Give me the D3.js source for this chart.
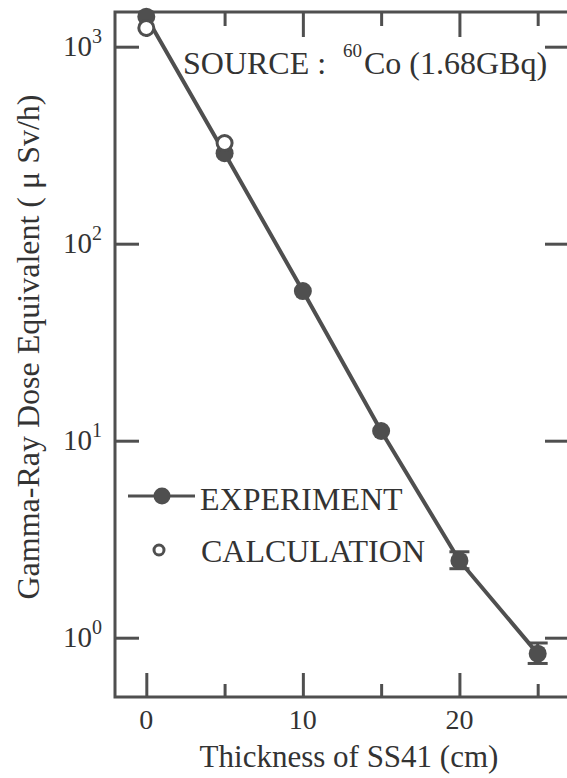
<!DOCTYPE html>
<html>
<head>
<meta charset="utf-8">
<script src="https://cdn.jsdelivr.net/npm/d3@7"></script>
</head>
<body style="margin:0">
<script>
// values
const thickness = [0, 5, 10, 15, 20, 25];
const experiment = [1420, 288, 57.5, 11.2, 2.46, 0.83];
const expLow = [null, null, null, null, 2.24, 0.74];
const expHigh = [null, null, null, null, 2.73, 0.94];
const calcThickness = [0, 5];
const calculation = [1245, 324];
const xMajor = [0, 10, 20];
const xMinor = [5, 15, 25];
const yDecades = [0, 1, 2, 3];

const width = 567, height = 778;
const ink = "#4f4f4f";
const fontFam = '"Liberation Serif"';

const svg = d3.select("body").append("svg")
    .attr("width", width)
    .attr("height", height)
    .style("display", "block");

const x = d3.scaleLinear().domain([-2, 27]).range([115, 569]);
const y = d3.scaleLog().domain([0.5, 1500]).range([697, 12]);

function label(parent, size) {
    return parent.append("text")
        .style("font-family", fontFam)
        .attr("font-size", size)
        .attr("fill", "#333");
}

// x tick labels
xMajor.forEach(d => {
    label(svg, 28).attr("x", x(d)).attr("y", 729).attr("text-anchor", "middle").text(d);
});

// y tick labels 10^n
yDecades.forEach(d => {
    const t = label(svg, 29).attr("x", 102).attr("y", y(10 ** d) + 9).attr("text-anchor", "end");
    t.append("tspan").text("10");
    t.append("tspan").attr("dy", -13).attr("font-size", 20).text(d);
});

// axis titles
label(svg, 31).attr("x", 349).attr("y", 767).attr("text-anchor", "middle")
    .text("Thickness of SS41 (cm)");
label(svg, 32).attr("transform", "translate(39,347) rotate(-90)").attr("text-anchor", "middle")
    .text("Gamma-Ray Dose Equivalent ( μ Sv/h)");

// source annotation
const src = label(svg, 32).attr("x", 183).attr("y", 74);
src.append("tspan").text("SOURCE :");
src.append("tspan").attr("x", 343).attr("dy", -17).attr("font-size", 19).text("60");
src.append("tspan").attr("x", 364).attr("dy", 17).text("Co (1.68GBq)");

// legend text
label(svg, 32).attr("x", 200).attr("y", 510).text("EXPERIMENT");
label(svg, 32).attr("x", 201).attr("y", 562).text("CALCULATION");

// ticks (all pointing inward)
const tickStyle = g => {
    g.select(".domain").remove();
    g.selectAll(".tick line").attr("stroke", ink).attr("stroke-width", 3);
    g.selectAll(".tick text").remove();
};
svg.append("g").attr("transform", `translate(0,${y.range()[0]})`)
    .call(d3.axisBottom(x).tickValues(xMajor).tickSize(-24)).call(tickStyle);
svg.append("g").attr("transform", `translate(0,${y.range()[0]})`)
    .call(d3.axisBottom(x).tickValues(xMinor).tickSize(-13)).call(tickStyle);
svg.append("g").attr("transform", `translate(0,${y.range()[1]})`)
    .call(d3.axisTop(x).tickValues(xMajor).tickSize(-25)).call(tickStyle);
svg.append("g").attr("transform", `translate(0,${y.range()[1]})`)
    .call(d3.axisTop(x).tickValues(xMinor).tickSize(-14)).call(tickStyle);
svg.append("g").attr("transform", `translate(${x.range()[0]},0)`)
    .call(d3.axisLeft(y).tickValues(yDecades.map(d => 10 ** d)).tickSize(-24)).call(tickStyle);
svg.append("g").attr("transform", `translate(${x.range()[1]},0)`)
    .call(d3.axisRight(y).tickValues(yDecades.map(d => 10 ** d)).tickSize(-24)).call(tickStyle);

// frame
svg.append("rect")
    .attr("x", x.range()[0]).attr("y", y.range()[1])
    .attr("width", x.range()[1] - x.range()[0])
    .attr("height", y.range()[0] - y.range()[1])
    .attr("fill", "none").attr("stroke", ink).attr("stroke-width", 3);

// experiment line
const line = d3.line().x((d, i) => x(thickness[i])).y(d => y(d));
svg.append("path").datum(experiment)
    .attr("d", line)
    .attr("fill", "none").attr("stroke", ink).attr("stroke-width", 4);

// error bars
const err = thickness.map((t, i) => ({ t, lo: expLow[i], hi: expHigh[i] })).filter(d => d.lo !== null);
const eb = svg.append("g").selectAll("g").data(err).join("g").attr("stroke", ink).attr("stroke-width", 3);
eb.append("line").attr("x1", d => x(d.t)).attr("x2", d => x(d.t)).attr("y1", d => y(d.lo)).attr("y2", d => y(d.hi));
eb.append("line").attr("x1", d => x(d.t) - 10).attr("x2", d => x(d.t) + 10).attr("y1", d => y(d.lo)).attr("y2", d => y(d.lo));
eb.append("line").attr("x1", d => x(d.t) - 10).attr("x2", d => x(d.t) + 10).attr("y1", d => y(d.hi)).attr("y2", d => y(d.hi));

// experiment points
svg.append("g").selectAll("circle").data(experiment).join("circle")
    .attr("cx", (d, i) => x(thickness[i])).attr("cy", d => y(d))
    .attr("r", 9).attr("fill", ink);

// calculation points
svg.append("g").selectAll("circle").data(calculation).join("circle")
    .attr("cx", (d, i) => x(calcThickness[i])).attr("cy", d => y(d))
    .attr("r", 7.5).attr("fill", "#fff").attr("stroke", ink).attr("stroke-width", 3);

// legend marks
svg.append("line").attr("x1", 128).attr("x2", 195).attr("y1", 496).attr("y2", 496)
    .attr("stroke", ink).attr("stroke-width", 3);
svg.append("circle").attr("cx", 162).attr("cy", 496).attr("r", 8.5).attr("fill", ink);
svg.append("circle").attr("cx", 159).attr("cy", 550).attr("r", 5)
    .attr("fill", "#fff").attr("stroke", ink).attr("stroke-width", 3);
</script>
</body>
</html>
